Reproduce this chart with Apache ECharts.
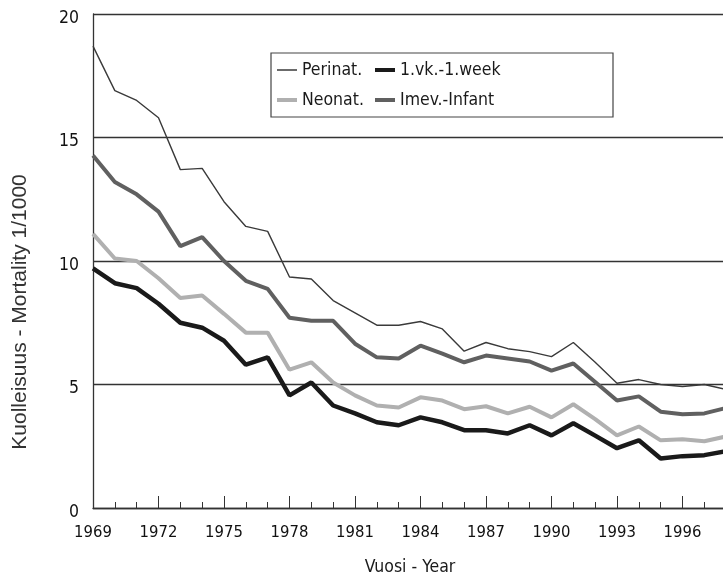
<!DOCTYPE html>
<html>
<head>
<meta charset="utf-8">
<script src="https://cdn.jsdelivr.net/npm/echarts@6/dist/echarts.min.js"></script>
<style>
  html, body { margin: 0; padding: 0; background: #fff; }
  #chart { width: 723px; height: 575px; }
</style>
</head>
<body>
<div id="chart"></div>
<script>
// years on the axis (axis runs one year past the data, cropped at the right edge)
const axisYears = [];
for (let y = 1969; y <= 1999; y++) axisYears.push(String(y));

// mortality per 1000, 1969..1998
const perinat = [18.7, 16.9, 16.5, 15.8, 13.7, 13.75, 12.4, 11.4, 11.2, 9.35,
  9.27, 8.4, 7.9, 7.4, 7.4, 7.55, 7.25, 6.35, 6.7, 6.45,
  6.33, 6.13, 6.7, 5.9, 5.05, 5.2, 5.0, 4.92, 5.0, 4.8];
const week = [9.7, 9.1, 8.9, 8.27, 7.5, 7.3, 6.77, 5.8, 6.1, 4.56,
  5.08, 4.15, 3.83, 3.47, 3.35, 3.67, 3.47, 3.15, 3.15, 3.02,
  3.35, 2.94, 3.43, 2.93, 2.42, 2.74, 2.0, 2.1, 2.14, 2.3];
const neonat = [11.1, 10.1, 10.0, 9.3, 8.5, 8.6, 7.86, 7.1, 7.1, 5.6,
  5.9, 5.08, 4.56, 4.15, 4.07, 4.48, 4.35, 4.0, 4.12, 3.83,
  4.1, 3.67, 4.2, 3.6, 2.94, 3.3, 2.74, 2.78, 2.7, 2.9];
const infant = [14.27, 13.2, 12.7, 12.0, 10.6, 10.97, 10.0, 9.2, 8.87, 7.7,
  7.58, 7.58, 6.65, 6.1, 6.05, 6.57, 6.25, 5.9, 6.17, 6.05,
  5.93, 5.56, 5.85, 5.1, 4.35, 4.52, 3.9, 3.8, 3.83, 4.05];

const yTicks = [0, 5, 10, 15, 20];

const narrow = '"Liberation Sans Narrow", "DejaVu Sans Condensed", sans-serif';

const chart = echarts.init(document.getElementById('chart'), null, { renderer: 'canvas' });

const line = (name, data, color, width) => ({
  name: name,
  type: 'line',
  xAxisIndex: 0,
  data: data,
  symbol: 'none',
  smooth: false,
  color: color,
  lineStyle: { color: color, width: width },
  animation: false
});

// one legend per entry, so each icon can have its own thickness
const legendItem = (name, left, top, iconH) => ({
  data: [name],
  left: left,
  top: top,
  padding: 0,
  icon: 'rect',
  itemWidth: 20,
  itemHeight: iconH,
  textStyle: { fontFamily: narrow, fontSize: 17.5, color: '#1a1a1a' }
});

chart.setOption({
  backgroundColor: '#fff',
  animation: false,
  grid: { left: 93, top: 14, width: 655, height: 494, containLabel: false, outerBoundsMode: 'none' },
  xAxis: [
    {
      // minor ticks every year + labels
      type: 'category',
      data: axisYears,
      boundaryGap: false,
      axisLine: { show: true, lineStyle: { color: '#333', width: 1.3 } },
      axisTick: { show: true, inside: true, length: 6, interval: 0, lineStyle: { color: '#333', width: 1 } },
      axisLabel: {
        interval: (i) => i % 3 === 0,
        margin: 16,
        fontFamily: narrow,
        fontSize: 16.5,
        color: '#111'
      },
      splitLine: { show: false }
    },
    {
      // longer ticks every third year
      type: 'category',
      data: axisYears,
      position: 'bottom',
      boundaryGap: false,
      axisLine: { show: false },
      axisTick: { show: true, inside: true, length: 12, interval: (i) => i % 3 === 0, lineStyle: { color: '#333', width: 1 } },
      axisLabel: { show: false },
      splitLine: { show: false }
    }
  ],
  yAxis: {
    type: 'value',
    min: yTicks[0],
    max: yTicks[yTicks.length - 1],
    interval: 5,
    axisLine: { show: true, lineStyle: { color: '#333', width: 1.3 } },
    axisTick: { show: false },
    axisLabel: {
      margin: 14,
      verticalAlign: 'top',
      padding: [-5, 0, 0, 0],
      fontFamily: narrow,
      fontSize: 17.5,
      color: '#111'
    },
    splitLine: { show: true, lineStyle: { color: '#333', width: 1.3 } }
  },
  legend: [
    legendItem('Perinat.', 277, 61, 1.5),
    legendItem('1.vk.-1.week', 375, 61, 4),
    legendItem('Neonat.', 277, 91, 4),
    legendItem('Imev.-Infant', 375, 91, 4)
  ],
  graphic: [
    {
      type: 'rect',
      shape: { x: 271, y: 53, width: 342, height: 64 },
      style: { fill: 'rgba(0,0,0,0)', stroke: '#444', lineWidth: 1.2 },
      z: 1
    },
    {
      type: 'text',
      x: 20,
      y: 312,
      rotation: Math.PI / 2,
      style: {
        text: 'Kuolleisuus - Mortality 1/1000',
        fontFamily: '"Liberation Sans", Arial, sans-serif',
        fontSize: 21,
        fill: '#333',
        align: 'center',
        verticalAlign: 'middle'
      }
    },
    {
      type: 'text',
      x: 410,
      y: 567,
      style: {
        text: 'Vuosi - Year',
        fontFamily: narrow,
        fontSize: 17.5,
        fill: '#1a1a1a',
        align: 'center',
        verticalAlign: 'middle'
      }
    }
  ],
  series: [
    line('Neonat.', neonat, '#b0b0b0', 4),
    line('Imev.-Infant', infant, '#606060', 4),
    line('1.vk.-1.week', week, '#1a1a1a', 4.5),
    line('Perinat.', perinat, '#3a3a3a', 1.4)
  ]
});
</script>
</body>
</html>
